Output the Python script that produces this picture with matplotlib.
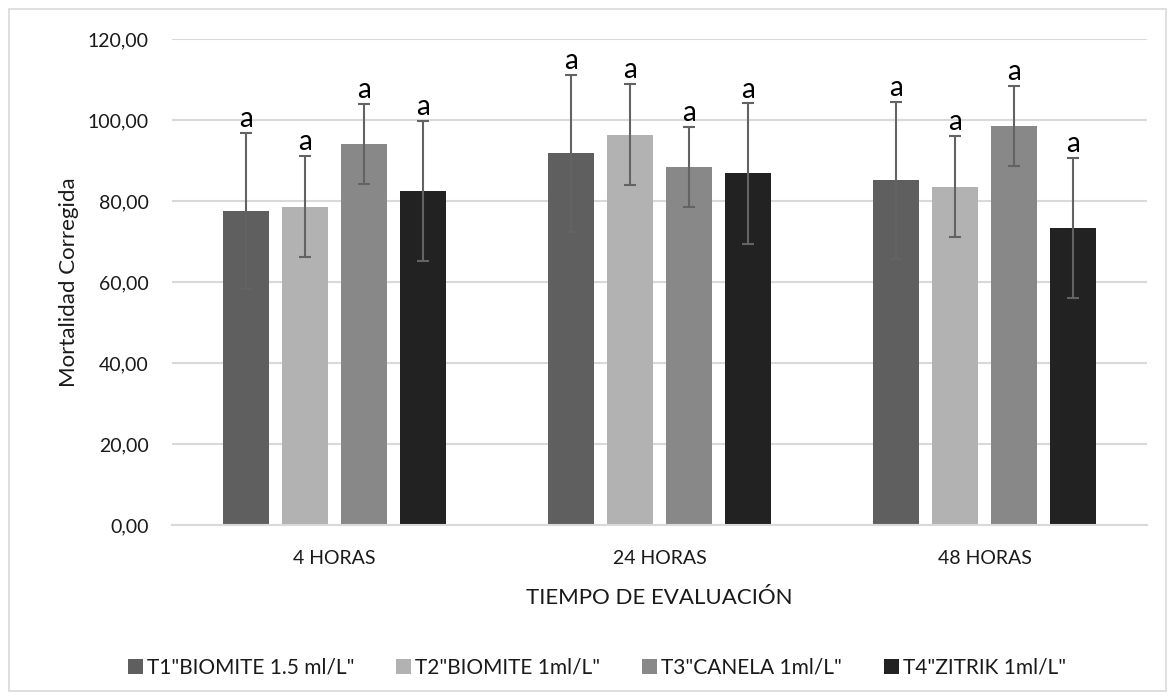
import matplotlib.pyplot as plt
from matplotlib.patches import Rectangle
import numpy as np

plt.rcParams['font.family'] = ['Lato', 'DejaVu Sans']

# data
categories = ['4 HORAS', '24 HORAS', '48 HORAS']
series_names = ['T1"BIOMITE 1.5 ml/L"', 'T2"BIOMITE 1ml/L"', 'T3"CANELA 1ml/L"', 'T4"ZITRIK 1ml/L"']
t1 = [77.6, 91.8, 85.1]
t2 = [78.6, 96.4, 83.5]
t3 = [94.1, 88.4, 98.5]
t4 = [82.5, 86.8, 73.4]
t1_err = [19.3, 19.4, 19.4]
t2_err = [12.5, 12.5, 12.5]
t3_err = [9.9, 9.9, 9.9]
t4_err = [17.2, 17.3, 17.3]
letters = ['a', 'a', 'a', 'a']
yticks = [0, 20, 40, 60, 80, 100, 120]

values = [t1, t2, t3, t4]
errors = [t1_err, t2_err, t3_err, t4_err]
colors = ['#5f5f5f', '#b2b2b2', '#888888', '#222222']
txt = '#1a1a1a'

fig = plt.figure(figsize=(11.75, 7), dpi=100)
ax = fig.add_axes([0.1464, 0.25, 0.8298, 0.6943])

# outer chart border like the Excel chart area
fig.patches.append(Rectangle((0.0077, 0.0129), 0.9846, 0.9742, transform=fig.transFigure,
                             fill=False, edgecolor='#d9d9d9', linewidth=1.2))

x = np.arange(len(categories))
width = 0.1415
step = 0.181
for i in range(4):
    pos = x + (i - 1.5) * step
    ax.bar(pos, values[i], width=width, color=colors[i], label=series_names[i], zorder=2)
    ax.errorbar(pos, values[i], yerr=errors[i], fmt='none', ecolor='#636363',
                elinewidth=1.5, capsize=4.5, capthick=1.5, zorder=3)
    for p, v, e in zip(pos, values[i], errors[i]):
        ax.text(p, v + e + 0.2, letters[i], ha='center', va='bottom', fontsize=20, color='black')

ax.set_xlim(-0.5, 2.5)
ax.set_ylim(0, 120)
ax.set_yticks(yticks)
ax.set_yticklabels([f'{t:.2f}'.replace('.', ',') for t in yticks])
ax.set_xticks(x)
ax.set_xticklabels(categories)
ax.tick_params(axis='y', length=0, pad=17, labelsize=14, colors=txt)
ax.tick_params(axis='x', length=0, pad=18, labelsize=14, colors=txt)
ax.grid(axis='y', color='#d9d9d9', linewidth=1.5, zorder=0)
ax.set_axisbelow(True)
for s in ['top', 'right', 'left']:
    ax.spines[s].set_visible(False)
ax.spines['bottom'].set_color('#d9d9d9')
ax.spines['bottom'].set_linewidth(1.5)

ax.set_xlabel('TIEMPO DE EVALUACIÓN', fontsize=16, color=txt, labelpad=15)
ax.set_ylabel('Mortalidad Corregida', fontsize=16, color=txt, labelpad=6)

fig.legend(loc='center', bbox_to_anchor=(0.508, 0.046), ncol=4, frameon=False,
           fontsize=15, handlelength=0.72, handleheight=0.72, handletextpad=0.2,
           columnspacing=2.0, labelcolor=txt)

plt.savefig('out.png', dpi=100)
